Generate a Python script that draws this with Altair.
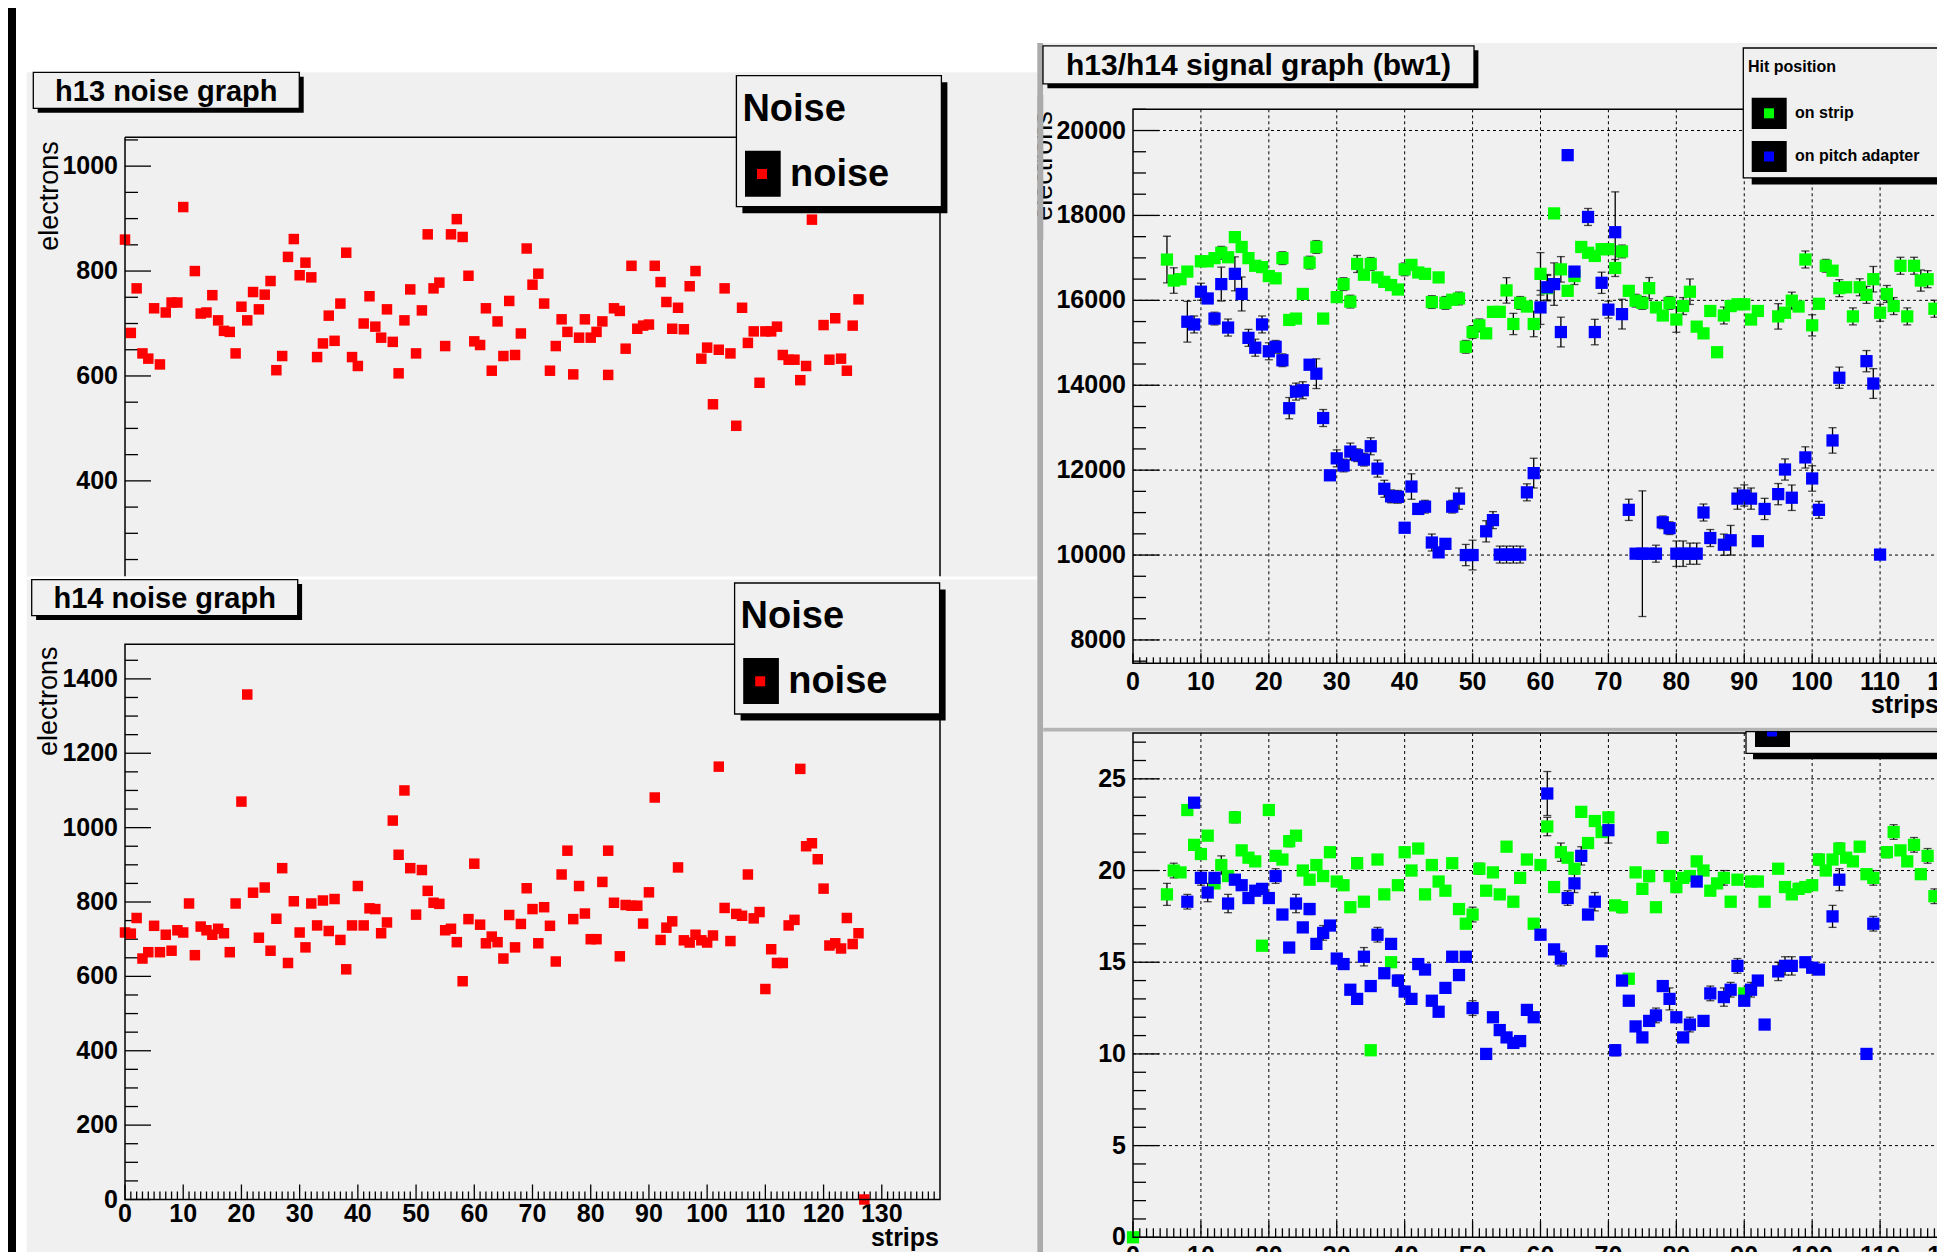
import altair as alt
import pandas as pd

FONT = "Liberation Sans"
PAD = "#f0f0f0"
SEP = "#ababab"

# ---------------- data ----------------
# h13 noise, strips 0..126 (None = no point visible)
h13_noise = [860, 682, 767, 643, 633, 729, 622, 721, 740, 740,
             922, None, 800, 719, 721, 754, 706, 686, 684, 643,
             732, 706, 760, 727, 755, 781, 611, 638, 827, 861,
             792, 816, 788, 636, 662, 715, 667, 738, 835, 636,
             619, 700, 752, 694, 673, 727, 665, 605, 706, 765,
             643, 725, 870, 767, 778, 657, 870, 899, 865, 791,
             666, 659, 729, 610, 704, 638, 743, 640, 681, 843,
             774, 795, 738, 610, 657, 708, 684, 603, 673, 708,
             673, 684, 704, 602, 729, 724, 652, 810, 690, 696,
             698, 810, 779, 741, 690, 730, 689, 771, 800, 633,
             654, 546, 650, 767, 643, 505, 730, 663, 685, 587,
             685, 685, 694, 640, 631, 631, 592, 619, 898, None,
             697, 631, 710, 633, 610, 696, 746]

# h14 noise, strips 0..127
h14_noise = [718, 715, 757, 648, 665, 736, 665, 712, 669, 724,
             718, 796, 657, 734, 724, 712, 728, 716, 665, 796,
             1070, 1358, 825, 704, 839, 669, 755, 891, 636, 802,
             718, 678, 796, 737, 804, 722, 808, 698, 619, 737,
             843, 737, 783, 781, 716, 745, 1019, 927, 1100, 891,
             766, 886, 830, 798, 795, 724, 728, 692, 587, 754,
             903, 739, 689, 707, 692, 648, 765, 678, 741, 837,
             781, 689, 786, 736, 640, 874, 938, 754, 843, 769,
             700, 700, 854, 938, 798, 654, 792, 790, 790, 742,
             826, 1081, 698, 731, 748, 893, 697, 691, 712, 697,
             691, 710, 1164, 784, 695, 768, 763, 874, 756, 773,
             566, 673, 636, 636, 737, 752, 1158, 950, 958, 915,
             836, 683, 689, 675, 757, 687, 716, 0]

# signal graph, hit on strip (green)
sig_strip_s = [5, 6, 7, 8, 10, 11, 12, 13, 14, 15,
               16, 17, 18, 19, 20, 21, 22, 23, 24, 25,
               26, 27, 28, 30, 31, 32, 33, 34, 35, 36,
               37, 38, 39, 40, 41, 42, 43, 44, 45, 46,
               47, 48, 49, 50, 51, 52, 53, 54, 55, 56,
               57, 58, 59, 60, 61, 62, 63, 64, 65, 66,
               67, 68, 69, 70, 71, 72, 73, 74, 75, 76,
               77, 78, 79, 80, 81, 82, 83, 84, 85, 86,
               87, 88, 89, 90, 91, 92, 95, 96, 97, 98,
               99, 100, 101, 102, 103, 104, 105, 106, 107, 108,
               109, 110, 111, 112, 113, 114, 115, 116, 117, 118]
sig_val_s = [16960, 16466, 16498, 16677, 16920, 16920, 16994, 17120, 17015, 17489,
             17257, 16994, 16814, 16783, 16572, 16519, 16994, 15538, 15570, 16150,
             16888, 17257, 15570, 16076, 16382, 15970, 16857, 16603, 16857, 16540,
             16435, 16360, 16255, 16730, 16835, 16656, 16624, 15960, 16540, 15939,
             16013, 16044, 14905, 15253, 15411, 15222, 15728, 15728, 16234, 15443,
             15939, 15854, 15443, 16624, 16287, 18048, 16730, 16224, 16572, 17257,
             17120, 17046, 17205, 17205, 16762, 17152, 16224, 15992, 15939, 16287,
             15833, 15643, 15939, 15548, 15865, 16203, 15380, 15222, 15749, 14778,
             15643, 15865, 15907, 15907, 15548, 15749, 15622, 15707, 15992, 15854,
             16962, 15411, 15918, 16814, 16698, 16287, 16308, 15622, 16308, 16129,
             16498, 15707, 16150, 15865, 16814, 15622, 16814, 16466, 16498, 15802]
sig_err_s = [550, 300, 0, 0, 0, 0, 0, 150, 0, 0,
             0, 0, 0, 0, 0, 0, 150, 0, 0, 0,
             150, 150, 0, 0, 150, 150, 200, 0, 150, 0,
             0, 0, 0, 150, 0, 0, 0, 150, 0, 150,
             0, 150, 150, 150, 150, 0, 0, 0, 300, 250,
             150, 0, 300, 500, 300, 0, 300, 0, 200, 0,
             0, 0, 0, 0, 200, 150, 0, 150, 150, 250,
             0, 0, 150, 300, 200, 300, 0, 0, 0, 0,
             200, 0, 0, 0, 0, 0, 300, 0, 200, 0,
             200, 250, 0, 150, 0, 200, 0, 200, 200, 200,
             300, 200, 200, 200, 200, 200, 200, 250, 200, 200]

# signal graph, hit on pitch adapter (blue)
sig_strip_p = [8, 9, 10, 11, 12, 13, 14, 15, 16, 17,
               18, 19, 20, 21, 22, 23, 24, 25, 26, 27,
               28, 29, 30, 31, 32, 33, 34, 35, 36, 37,
               38, 39, 40, 41, 42, 43, 44, 45, 46, 47,
               48, 49, 50, 52, 53, 54, 55, 56, 57, 58,
               59, 60, 61, 62, 63, 64, 65, 67, 68, 69,
               70, 71, 72, 73, 74, 75, 76, 77, 78, 79,
               80, 81, 82, 83, 84, 85, 87, 88, 89, 90,
               91, 92, 93, 95, 96, 97, 99, 100, 101, 103,
               104, 108, 109, 110]
sig_val_p = [15496, 15432, 16203, 16044, 15570, 16382, 15359, 16624, 16150, 15116,
             14884, 15432, 14800, 14905, 14589, 13460, 13850, 13882, 14483, 14272,
             13228, 11878, 12278, 12110, 12437, 12352, 12247, 12563, 12036, 11561,
             11382, 11371, 10643, 11614, 11086, 11139, 10295, 10063, 10264, 11139,
             11329, 10000, 10000, 10559, 10823, 10011, 10011, 10011, 10011, 11477,
             11930, 15833, 16308, 16382, 15253, 19420, 16677, 17964, 15253, 16413,
             15781, 17605, 15675, 11065, 10032, 10032, 10032, 10032, 10770, 10633,
             10032, 10032, 10032, 10032, 11002, 10401, 10243, 10348, 11329, 11403,
             11329, 10327, 11086, 11435, 12015, 11350, 12300, 11804, 11065, 12700,
             14177, 14567, 14040, 10011]
sig_err_p = [480, 200, 200, 0, 150, 400, 200, 400, 400, 200,
             200, 200, 200, 150, 150, 250, 200, 200, 100, 350,
             200, 0, 200, 150, 200, 150, 150, 200, 200, 200,
             150, 150, 0, 300, 0, 150, 200, 0, 100, 150,
             250, 250, 350, 250, 200, 200, 200, 200, 200, 200,
             350, 400, 300, 500, 350, 0, 0, 200, 300, 250,
             200, 950, 350, 250, 0, 1480, 0, 200, 150, 150,
             300, 300, 250, 250, 200, 200, 250, 350, 250, 250,
             250, 100, 250, 250, 250, 300, 250, 300, 200, 300,
             250, 250, 350, 0]

# lower right graph, on strip (green)
low_strip_s = [0, 5, 6, 7, 8, 9, 10, 11, 12, 13,
               14, 15, 16, 17, 18, 19, 20, 21, 22, 23,
               24, 25, 26, 27, 28, 29, 30, 31, 32, 33,
               34, 35, 36, 37, 38, 39, 40, 41, 42, 43,
               44, 45, 46, 47, 48, 49, 50, 51, 52, 53,
               54, 55, 56, 57, 58, 59, 60, 61, 62, 63,
               64, 65, 66, 67, 68, 69, 70, 71, 72, 73,
               74, 75, 76, 77, 78, 79, 80, 81, 82, 83,
               84, 85, 86, 87, 88, 89, 90, 91, 92, 93,
               95, 96, 97, 98, 99, 100, 101, 102, 103, 104,
               105, 106, 107, 108, 109, 111, 112, 113, 114, 115,
               116, 117, 118]
low_val_s = [0, 18.7, 20.0, 19.9, 23.3, 21.4, 20.9, 21.9, 19.3, 20.3,
             19.7, 22.9, 21.1, 20.7, 20.5, 15.9, 23.3, 20.8, 20.6, 21.6,
             21.9, 20.0, 19.5, 20.3, 19.7, 21.0, 19.4, 19.2, 18.0, 20.4,
             18.3, 10.2, 20.6, 18.7, 15.0, 19.2, 21.0, 20.0, 21.2, 18.7,
             20.3, 19.4, 18.9, 20.4, 17.9, 17.1, 17.6, 20.1, 18.9, 19.9,
             18.7, 21.3, 18.3, 19.6, 20.6, 17.1, 20.3, 22.4, 19.1, 21.0,
             20.7, 20.1, 23.2, 21.5, 22.7, 22.1, 22.9, 18.1, 18.0, 14.1,
             19.9, 19.0, 19.7, 18.0, 21.8, 19.7, 19.1, 19.6, 19.7, 20.5,
             20.0, 18.9, 19.3, 19.6, 18.3, 19.5, 13.3, 19.4, 19.4, 18.3,
             20.1, 19.1, 18.7, 19.0, 19.1, 19.2, 20.6, 20.0, 20.6, 21.2,
             20.7, 20.5, 21.3, 19.8, 19.6, 21.0, 22.1, 21.1, 20.5, 21.4,
             19.8, 20.8, 18.6]
low_err_s = [0, 0.6, 0.4, 0, 0, 0, 0, 0, 0, 0.5,
             0, 0.3, 0, 0, 0, 0, 0, 0, 0, 0.3,
             0, 0, 0, 0, 0, 0, 0, 0, 0, 0.3,
             0, 0, 0, 0, 0, 0, 0, 0, 0, 0,
             0, 0, 0, 0, 0, 0, 0.4, 0.3, 0, 0,
             0, 0, 0, 0, 0, 0, 0, 0.5, 0, 0.5,
             0, 0, 0, 0, 0, 0, 0, 0, 0.3, 0,
             0, 0, 0.3, 0, 0.3, 0, 0.3, 0, 0, 0.2,
             0, 0, 0, 0.4, 0, 0, 0, 0, 0, 0,
             0, 0, 0, 0.3, 0, 0, 0.3, 0, 0, 0.3,
             0, 0, 0, 0, 0.4, 0.3, 0.4, 0, 0, 0.4,
             0, 0.4, 0.4]

# lower right graph, on pitch adapter (blue)
low_strip_p = [8, 9, 10, 11, 12, 14, 15, 16, 17, 18,
               19, 20, 21, 22, 23, 24, 25, 26, 27, 28,
               29, 30, 31, 32, 33, 34, 35, 36, 37, 38,
               39, 40, 41, 42, 43, 44, 45, 46, 47, 48,
               49, 50, 52, 53, 54, 55, 56, 57, 58, 59,
               60, 61, 62, 63, 64, 65, 66, 67, 68, 69,
               70, 71, 72, 73, 74, 75, 76, 77, 78, 79,
               80, 81, 82, 83, 84, 85, 87, 88, 89, 90,
               91, 92, 93, 95, 96, 97, 99, 100, 101, 103,
               104, 108, 109]
low_val_p = [18.3, 23.7, 19.6, 18.8, 19.6, 18.2, 19.5, 19.2, 18.5, 18.9,
             19.0, 18.5, 19.7, 17.6, 15.8, 18.2, 16.9, 17.9, 16.0, 16.6,
             17.0, 15.2, 14.9, 13.5, 13.0, 15.3, 13.7, 16.5, 14.4, 16.0,
             14.0, 13.4, 13.0, 14.9, 14.6, 12.9, 12.3, 13.6, 15.3, 14.3,
             15.3, 12.5, 10.0, 12.0, 11.3, 10.9, 10.6, 10.7, 12.4, 12.0,
             16.5, 24.2, 15.7, 15.2, 18.5, 19.3, 20.8, 17.6, 18.3, 15.6,
             22.2, 10.2, 14.0, 12.9, 11.5, 10.9, 11.8, 12.1, 13.7, 13.0,
             12.0, 10.9, 11.6, 19.4, 11.8, 13.3, 13.1, 13.5, 14.8, 12.9,
             13.5, 14.0, 11.6, 14.5, 14.8, 14.8, 15.0, 14.7, 14.6, 17.5,
             19.5, 10.0, 17.1]
low_err_p = [0.4, 0, 0.4, 0.5, 0, 0.5, 0, 0, 0, 0,
             0, 0, 0.4, 0, 0, 0.5, 0, 0.3, 0, 0.4,
             0, 0, 0, 0, 0, 0.5, 0, 0.4, 0, 0,
             0.3, 0, 0, 0, 0, 0, 0, 0, 0, 0,
             0, 0.4, 0, 0, 0, 0, 0, 0, 0, 0,
             0, 1.2, 0, 0.4, 0.4, 0.5, 0.5, 0, 0.5, 0,
             0.7, 0.3, 0, 0, 0, 0, 0, 0.4, 0, 0.6,
             0, 0, 0.4, 0, 0, 0.4, 0.5, 0.4, 0.4, 0,
             0.4, 0, 0, 0.5, 0.5, 0.5, 0, 0, 0, 0.6,
             0.6, 0, 0.4]

# axis tick labels
noise13_labels = [400, 600, 800, 1000]
noise14_labels = [0, 200, 400, 600, 800, 1000, 1200, 1400]
signal_labels = [8000, 10000, 12000, 14000, 16000, 18000, 20000]
low_labels = [0, 5, 10, 15, 20, 25]
strip_labels_left = list(range(0, 131, 10))
strip_labels_right = list(range(0, 121, 10))

# ---------------- geometry ----------------
W = 815           # width of every frame
H = 1128          # height of each column view
TL_TOP, TL_BOT = 28, 465.3
BL_TOP, BL_BOT = 535, 1090.2
TR_TOP, TR_BOT = 0, 554
BR_TOP, BR_BOT = 623.7, 1128


def band_scale(v_top, v_bot, px_top, px_bot):
    k = (px_bot - px_top) / (v_top - v_bot)
    return alt.Scale(domain=[v_bot - (H - px_bot) / k, v_top + px_top / k],
                     nice=False, zero=False)


xs_l = alt.Scale(domain=[0, 140], nice=False, zero=False)
xs_r = alt.Scale(domain=[0, 120], nice=False, zero=False)
ys_tl = band_scale(1055, 221.3, TL_TOP, TL_BOT)
ys_bl = band_scale(1493, 0, BL_TOP, BL_BOT)
ys_tr = band_scale(20500, 7450, TR_TOP, TR_BOT)
ys_br = band_scale(27.5, 0, BR_TOP, BR_BOT)

# ---------------- helpers ----------------
ONE = pd.DataFrame({"k": [0]})


def rect(x1, y1, x2, y2, fill, stroke=None, sw=1.3, fo=1.0):
    kw = {"fill": fill, "fillOpacity": fo}
    if stroke is not None:
        kw["stroke"] = stroke
        kw["strokeWidth"] = sw
    else:
        kw["strokeWidth"] = 0
    return alt.Chart(ONE).mark_rect(**kw).encode(
        x=alt.value(x1), x2=alt.value(x2), y=alt.value(y1), y2=alt.value(y2))


def text(x, y, s, size, weight="normal", align="left", baseline="middle", angle=0):
    return alt.Chart(ONE).mark_text(
        text=s, font=FONT, fontSize=size, fontWeight=weight, align=align,
        baseline=baseline, angle=angle, color="black").encode(
        x=alt.value(x), y=alt.value(y))


def vline(x, y1, y2, sw=1.5):
    return alt.Chart(ONE).mark_rule(color="black", strokeWidth=sw).encode(
        x=alt.value(x), y=alt.value(y1), y2=alt.value(y2))


def hline(x1, x2, y, sw=1.5):
    return alt.Chart(ONE).mark_rule(color="black", strokeWidth=sw).encode(
        x=alt.value(x1), x2=alt.value(x2), y=alt.value(y))


def points(strips, vals, color, size, xs, ys):
    rows = [(s, v) for s, v in zip(strips, vals) if v is not None]
    df = pd.DataFrame(rows, columns=["strip", "value"])
    return alt.Chart(df).mark_square(color=color, size=size, opacity=1).encode(
        x=alt.X("strip:Q", scale=xs, axis=None),
        y=alt.Y("value:Q", scale=ys, axis=None))


def errbars(strips, vals, errs, xs, ys):
    rows = [(s, v - e, v + e) for s, v, e in zip(strips, vals, errs) if e > 0]
    df = pd.DataFrame(rows, columns=["strip", "lo", "hi"])
    base = alt.Chart(df)
    x = alt.X("strip:Q", scale=xs, axis=None)
    bar = base.mark_rule(color="black", strokeWidth=1.3).encode(
        x=x, y=alt.Y("lo:Q", scale=ys, axis=None), y2="hi:Q")
    lo = base.mark_tick(color="black", orient="horizontal", size=8, thickness=1.3).encode(
        x=x, y=alt.Y("lo:Q", scale=ys, axis=None))
    hi = base.mark_tick(color="black", orient="horizontal", size=8, thickness=1.3).encode(
        x=x, y=alt.Y("hi:Q", scale=ys, axis=None))
    return [bar, lo, hi]


def yticks(vals, length, ys):
    df = pd.DataFrame({"value": vals})
    return alt.Chart(df).mark_rule(color="black", strokeWidth=1.3).encode(
        y=alt.Y("value:Q", scale=ys, axis=None), x=alt.value(0), x2=alt.value(length))


def xticks(vals, bottom, length, xs):
    df = pd.DataFrame({"strip": vals})
    return alt.Chart(df).mark_rule(color="black", strokeWidth=1.3).encode(
        x=alt.X("strip:Q", scale=xs, axis=None), y=alt.value(bottom), y2=alt.value(bottom - length))


def ylabels(vals, ys):
    df = pd.DataFrame({"value": vals})
    return alt.Chart(df).mark_text(
        font=FONT, fontSize=25, fontWeight="bold", align="right", baseline="middle",
        color="black").encode(
        y=alt.Y("value:Q", scale=ys, axis=None), x=alt.value(-7),
        text=alt.Text("value:Q", format="d"))


def xlabels(vals, xs, ypx):
    df = pd.DataFrame({"strip": vals})
    return alt.Chart(df).mark_text(
        font=FONT, fontSize=25, fontWeight="bold", align="center", baseline="top",
        color="black").encode(
        x=alt.X("strip:Q", scale=xs, axis=None), y=alt.value(ypx),
        text=alt.Text("strip:Q", format="d"))


def vgrid(vals, xs, y1, y2):
    df = pd.DataFrame({"strip": vals})
    return alt.Chart(df).mark_rule(color="black", strokeWidth=1, strokeDash=[3, 3]).encode(
        x=alt.X("strip:Q", scale=xs, axis=None), y=alt.value(y1), y2=alt.value(y2))


def hgrid(vals, ys):
    df = pd.DataFrame({"value": vals})
    return alt.Chart(df).mark_rule(color="black", strokeWidth=1, strokeDash=[3, 3]).encode(
        y=alt.Y("value:Q", scale=ys, axis=None), x=alt.value(0), x2=alt.value(W))


def legend_noise(bx, by):
    return [
        rect(bx + 6, by + 6.6, bx + 211, by + 137.6, "black"),
        rect(bx, by, bx + 205, by + 131, PAD, stroke="black"),
        text(bx + 6, by + 34.3, "Noise", 38, "bold"),
        rect(bx + 8.6, by + 75, bx + 44.3, by + 121, "black"),
        rect(bx + 20.6, by + 93.3, bx + 30.6, by + 103.3, "#ff0000"),
        text(bx + 53.6, by + 99.3, "noise", 38, "bold"),
    ]


def title_box(x1, y1, x2, y2, label, size):
    return [
        rect(x1 + 4.4, y1 + 4.4, x2 + 4.4, y2 + 4.4, "black"),
        rect(x1, y1, x2, y2, PAD, stroke="black"),
        text((x1 + x2) / 2, (y1 + y2) / 2 + 1.5, label, size, "bold", "center"),
    ]


# ---------------- left column: h13 and h14 noise ----------------
DY = -71.7  # page y 37.6 relative to column origin (page y 109.3)
pads_left = alt.layer(
    rect(-117, -29.6 + DY, -109, 1214.4 + DY, "black"),
    rect(-98.3, 34.7 + DY, 912.3, 538.9 + DY, PAD),
    rect(-98.3, 541.9 + DY, 912.3, 1214.4 + DY, PAD),
    rect(912.3, 5.4 + DY, 918.3, 1214.4 + DY, SEP),
)

minor_tl = [v for v in range(250, 1051, 50) if v % 200 != 0]
tl = alt.layer(
    yticks(noise13_labels, 26, ys_tl),
    yticks(minor_tl, 13, ys_tl),
    ylabels(noise13_labels, ys_tl),
    points(list(range(len(h13_noise))), h13_noise, "#ff0000", 110, xs_l, ys_tl),
    vline(0, TL_TOP, 467), hline(0, W, TL_TOP), vline(W, TL_TOP, 467),
    *title_box(-91.7, -37, 174.3, -1, "h13 noise graph", 29),
    *legend_noise(611.4, -33.6),
    text(-67, 86.7, "electrons", 27, angle=270, align="center", baseline="alphabetic"),
)

minor_bl = [v for v in range(50, 1451, 50) if v % 200 != 0]
xminor_l = [v for v in range(1, 140) if v % 10 != 0]
bl = alt.layer(
    yticks(noise14_labels, 26, ys_bl),
    yticks(minor_bl, 13, ys_bl),
    ylabels(noise14_labels, ys_bl),
    xticks(list(range(0, 140, 10)), BL_BOT, 15, xs_l),
    xticks(xminor_l, BL_BOT, 8, xs_l),
    xlabels(strip_labels_left, xs_l, BL_BOT + 2),
    points(list(range(len(h14_noise))), h14_noise, "#ff0000", 110, xs_l, ys_bl),
    rect(0, BL_TOP, W, BL_BOT, PAD, stroke="black", sw=1.5, fo=0),
    *title_box(-93.3, BL_TOP - 64.7, 172.7, BL_TOP - 28.7, "h14 noise graph", 29),
    *legend_noise(609.6, BL_TOP - 61.3),
    text(-68, BL_TOP + 57, "electrons", 27, angle=270, align="center", baseline="alphabetic"),
    text(814, BL_TOP + 593.7, "strips", 25, "bold", "right"),
)

LEFT = alt.layer(pads_left, tl, bl).resolve_scale(y="independent").properties(width=W, height=H)

# ---------------- right column: signal graphs ----------------
pads_right = alt.layer(
    rect(-89.7, 5.4 + DY, 830, 690.1 + DY, PAD),
    rect(-89.7, 690.1 + DY, 830, 694.1 + DY, "#b4b4b4"),
    rect(-89.7, 694.1 + DY, 830, 1214.4 + DY, PAD),
)

minor_tr = [v for v in range(7500, 20501, 500) if v % 2000 != 0]
xminor_r = [v for v in range(1, 121) if v % 10 != 0]
tr = alt.layer(
    vgrid(strip_labels_right[1:], xs_r, TR_TOP, TR_BOT),
    hgrid(signal_labels, ys_tr),
    yticks(signal_labels, 26, ys_tr),
    yticks(minor_tr, 13, ys_tr),
    ylabels(signal_labels, ys_tr),
    xticks(strip_labels_right, TR_BOT, 10, xs_r),
    xticks(xminor_r, TR_BOT, 6, xs_r),
    xlabels(strip_labels_right, xs_r, TR_BOT + 7),
    *errbars(sig_strip_s, sig_val_s, sig_err_s, xs_r, ys_tr),
    *errbars(sig_strip_p, sig_val_p, sig_err_p, xs_r, ys_tr),
    points(sig_strip_s, sig_val_s, "#00ff00", 150, xs_r, ys_tr),
    points(sig_strip_p, sig_val_p, "#0000ff", 150, xs_r, ys_tr),
    rect(0, TR_TOP, W, TR_BOT, PAD, stroke="black", sw=1.5, fo=0),
    *title_box(-90, -63.4, 341, -25.4, "h13/h14 signal graph (bw1)", 30),
    rect(618.7, -54.7, 900, 75.1, "black"),
    rect(610.3, -61.3, 900, 68.5, PAD, stroke="black"),
    text(615, -42.6, "Hit position", 16, "bold"),
    rect(618.7, -11.5, 653.7, 19.6, "black"),
    rect(631, -1, 641, 9, "#00ff00"),
    text(662, 3.7, "on strip", 16, "bold"),
    rect(618.7, 31.7, 653.7, 62.7, "black"),
    rect(631, 42.2, 641, 52.2, "#0000ff"),
    text(662, 46.7, "on pitch adapter", 16, "bold"),
    text(806, 595.2, "strips", 25, "bold", "right"),
    text(-81, 56.7, "electrons", 27, angle=270, align="center", baseline="alphabetic"),
    rect(-118, -14.3, -95.7, 130.7, PAD),
    rect(-95.7, -14.3, -89.7, 130.7, SEP),
)

minor_br = [v for v in range(1, 28) if v % 5 != 0]
br = alt.layer(
    vgrid(strip_labels_right[1:], xs_r, BR_TOP, BR_BOT),
    hgrid(low_labels[1:], ys_br),
    yticks(low_labels, 26, ys_br),
    yticks(minor_br, 13, ys_br),
    ylabels(low_labels, ys_br),
    xticks(strip_labels_right, BR_BOT, 16, xs_r),
    xticks(xminor_r, BR_BOT, 9, xs_r),
    xlabels(strip_labels_right, xs_r, BR_BOT + 7),
    *errbars(low_strip_s, low_val_s, low_err_s, xs_r, ys_br),
    *errbars(low_strip_p, low_val_p, low_err_p, xs_r, ys_br),
    points(low_strip_s, low_val_s, "#00ff00", 150, xs_r, ys_br),
    points(low_strip_p, low_val_p, "#0000ff", 150, xs_r, ys_br),
    rect(0, BR_TOP, W, BR_BOT, PAD, stroke="black", sw=1.5, fo=0),
    rect(620, BR_TOP + 20.3, 900, BR_TOP + 26.3, "black"),
    rect(613, BR_TOP - 1.3, 900, BR_TOP + 20.3, PAD, stroke="black"),
    rect(622, BR_TOP - 1.3, 657, BR_TOP + 14, "black"),
    rect(634, BR_TOP - 1.3, 644, BR_TOP + 3.5, "#0000ff"),
)

RIGHT = alt.layer(pads_right, tr, br).resolve_scale(y="independent").properties(width=W, height=H)

chart = alt.hconcat(LEFT, RIGHT, spacing=193).properties(
    bounds="flush",
    autosize=alt.AutoSizeParams(type="none"),
    padding={"left": 117, "top": 101.3, "right": 1812, "bottom": 1134.7},
    background="white",
).configure_view(strokeWidth=0)

chart.save("out.html", embed_options={"renderer": "svg", "actions": False})
